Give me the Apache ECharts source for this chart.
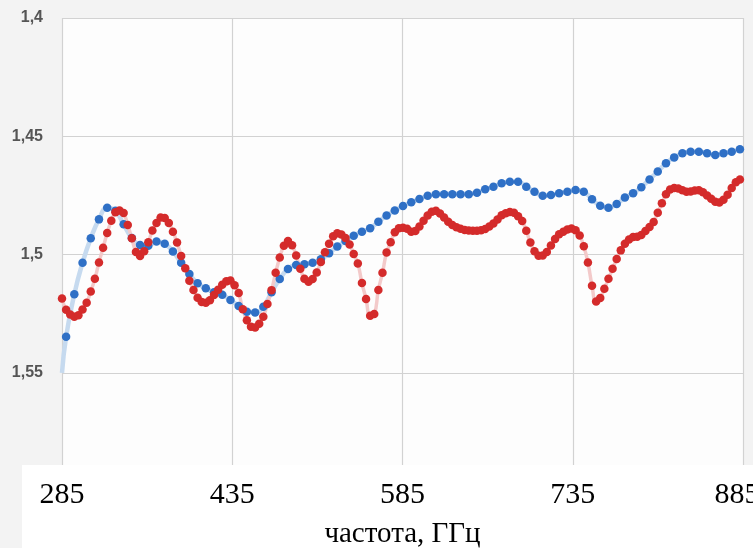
<!DOCTYPE html>
<html><head><meta charset="utf-8">
<script src="https://cdn.jsdelivr.net/npm/echarts@6/dist/echarts.min.js"></script>
<style>html,body{margin:0;padding:0;background:#f3f3f3}#c{width:753px;height:548px}</style>
</head><body><div id="c"></div>
<script>
// axis ticks
const xTicks = [285, 435, 585, 735, 885];
const yTicks = [1.4, 1.45, 1.5, 1.55];
const xTitle = 'частота, ГГц';
// frequency sampling of the measured curves (GHz)
const freqStart = 285;
const freqStep = 3.62;
// blue series (first value is the line start at 285 GHz, drawn without marker)
const blueValues = [1.55,
  1.5347, 1.5167, 1.5034, 1.4931, 1.4851, 1.4802, 1.4815, 1.4872, 1.4930, 1.4959,
  1.4962, 1.4945, 1.4954, 1.4987, 1.5034, 1.5082, 1.5121, 1.5142, 1.5159, 1.5170,
  1.5192, 1.5217, 1.5241, 1.5245, 1.5220, 1.5159, 1.5103, 1.5061, 1.5044, 1.5041,
  1.5034, 1.5020, 1.4994, 1.4966, 1.4942, 1.4920, 1.4903, 1.4889, 1.4861, 1.4835,
  1.4814, 1.4794, 1.4779, 1.4765, 1.4751, 1.4745, 1.4745, 1.4745, 1.4745, 1.4745,
  1.4738, 1.4724, 1.4713, 1.4698, 1.4692, 1.4692, 1.4713, 1.4734, 1.4751, 1.4748,
  1.4741, 1.4734, 1.4727, 1.4734, 1.4766, 1.4793, 1.4802, 1.4786, 1.4759, 1.4741,
  1.4715, 1.4682, 1.4649, 1.4614, 1.4589, 1.4572, 1.4565, 1.4565, 1.4572, 1.4579,
  1.4572, 1.4565, 1.4555];
// red series, one value per frequency step
const redValues = [
  1.5185, 1.5233, 1.5253, 1.5262, 1.5256, 1.5232, 1.5203, 1.5156, 1.5102, 1.5033,
  1.4971, 1.4909, 1.4857, 1.4821, 1.4813, 1.4824, 1.4875, 1.4931, 1.4989, 1.5006,
  1.4986, 1.4948, 1.4898, 1.4866, 1.4843, 1.4845, 1.4866, 1.4903, 1.4949, 1.5006,
  1.5058, 1.5110, 1.5149, 1.5182, 1.5200, 1.5203, 1.5193, 1.5171, 1.5148, 1.5127,
  1.5113, 1.5109, 1.5129, 1.5162, 1.5231, 1.5277, 1.5305, 1.5308, 1.5292, 1.5262,
  1.5209, 1.5150, 1.5077, 1.5012, 1.4962, 1.4942, 1.4960, 1.5004, 1.5060, 1.5102,
  1.5115, 1.5103, 1.5075, 1.5031, 1.4990, 1.4954, 1.4922, 1.4910, 1.4915, 1.4930,
  1.4957, 1.4997, 1.5037, 1.5120, 1.5187, 1.5258, 1.5251, 1.5149, 1.5077, 1.4991,
  1.4948, 1.4905, 1.4888, 1.4886, 1.4891, 1.4903, 1.4900, 1.4881, 1.4857, 1.4835,
  1.4819, 1.4815, 1.4826, 1.4843, 1.4861, 1.4875, 1.4884, 1.4891, 1.4896, 1.4898,
  1.4899, 1.4899, 1.4897, 1.4892, 1.4881, 1.4868, 1.4852, 1.4834, 1.4825, 1.4820,
  1.4823, 1.4838, 1.4858, 1.4899, 1.4949, 1.4986, 1.5005, 1.5004, 1.4989, 1.4961,
  1.4934, 1.4914, 1.4903, 1.4894, 1.4890, 1.4897, 1.4919, 1.4965, 1.5033, 1.5131,
  1.5198, 1.5183, 1.5144, 1.5102, 1.5060, 1.5018, 1.4982, 1.4954, 1.4936, 1.4925,
  1.4924, 1.4917, 1.4900, 1.4883, 1.4862, 1.4823, 1.4783, 1.4745, 1.4725, 1.4718,
  1.4721, 1.4728, 1.4734, 1.4733, 1.4729, 1.4728, 1.4736, 1.4750, 1.4764, 1.4777,
  1.4780, 1.4768, 1.4747, 1.4718, 1.4694, 1.4682];

const redData = redValues.map((v, i) => [freqStart + freqStep * i, v]);
const blueData = blueValues.map((v, i) => [i === 0 ? freqStart : freqStart + freqStep * (2 * (i - 1) + 1), v]);

const chart = echarts.init(document.getElementById('c'), null, {renderer: 'canvas'});
const fmtY = v => {
  const t = yTicks.find(t => Math.abs(t - v) < 1e-6);
  return t === undefined ? '' : String(t).replace('.', ',');
};
chart.setOption({
  animation: false,
  backgroundColor: '#f3f3f3',
  grid: {left: 62, right: 10, top: 18, bottom: 83, show: true, backgroundColor: '#fdfdfd', borderWidth: 0,
         outerBoundsMode: 'none', containLabel: false},
  graphic: [{type: 'rect', z: -100, silent: true, shape: {x: 22, y: 465, width: 731, height: 83}, style: {fill: '#ffffff'}}],
  xAxis: {
    type: 'value', min: xTicks[0], max: xTicks[xTicks.length - 1], interval: 150,
    axisLine: {show: false}, axisTick: {show: false},
    splitLine: {show: true, lineStyle: {color: '#d2d2d2', width: 1.2}},
    axisLabel: {
      margin: 15, color: '#000', fontFamily: 'Liberation Serif', fontSize: 30,
      formatter: v => v === 885 ? '{m|' + v + '}' : String(v),
      rich: {m: {fontFamily: 'Liberation Serif', fontSize: 30, color: '#000', padding: [0, 12, 0, 0]}}
    },
    name: xTitle, nameLocation: 'middle', nameGap: 55,
    nameTextStyle: {color: '#000', fontFamily: 'Liberation Serif', fontSize: 29}
  },
  yAxis: {
    type: 'value', inverse: true, min: 1.4, max: 1.5889, interval: 0.05,
    axisLine: {show: false}, axisTick: {show: false},
    splitLine: {show: true, showMaxLine: false, lineStyle: {color: '#d2d2d2', width: 1.2}},
    axisLabel: {margin: 19, color: '#555555', fontFamily: 'Liberation Sans', fontWeight: 'bold', fontSize: 16, formatter: fmtY}
  },
  series: [
    {
      type: 'line', data: blueData, smooth: 0.5, symbol: 'circle',
      symbolSize: (v, p) => p.dataIndex === 0 ? 0 : 8.5,
      itemStyle: {color: '#2f70c6', borderWidth: 0},
      lineStyle: {color: '#c6daef', width: 4.5}
    },
    {
      type: 'line', data: redData, smooth: 0.5, symbol: 'circle', symbolSize: 8.5,
      itemStyle: {color: '#d42b2b', borderWidth: 0},
      lineStyle: {color: '#f3caca', width: 3.5}
    }
  ]
});
</script>
</body></html>
